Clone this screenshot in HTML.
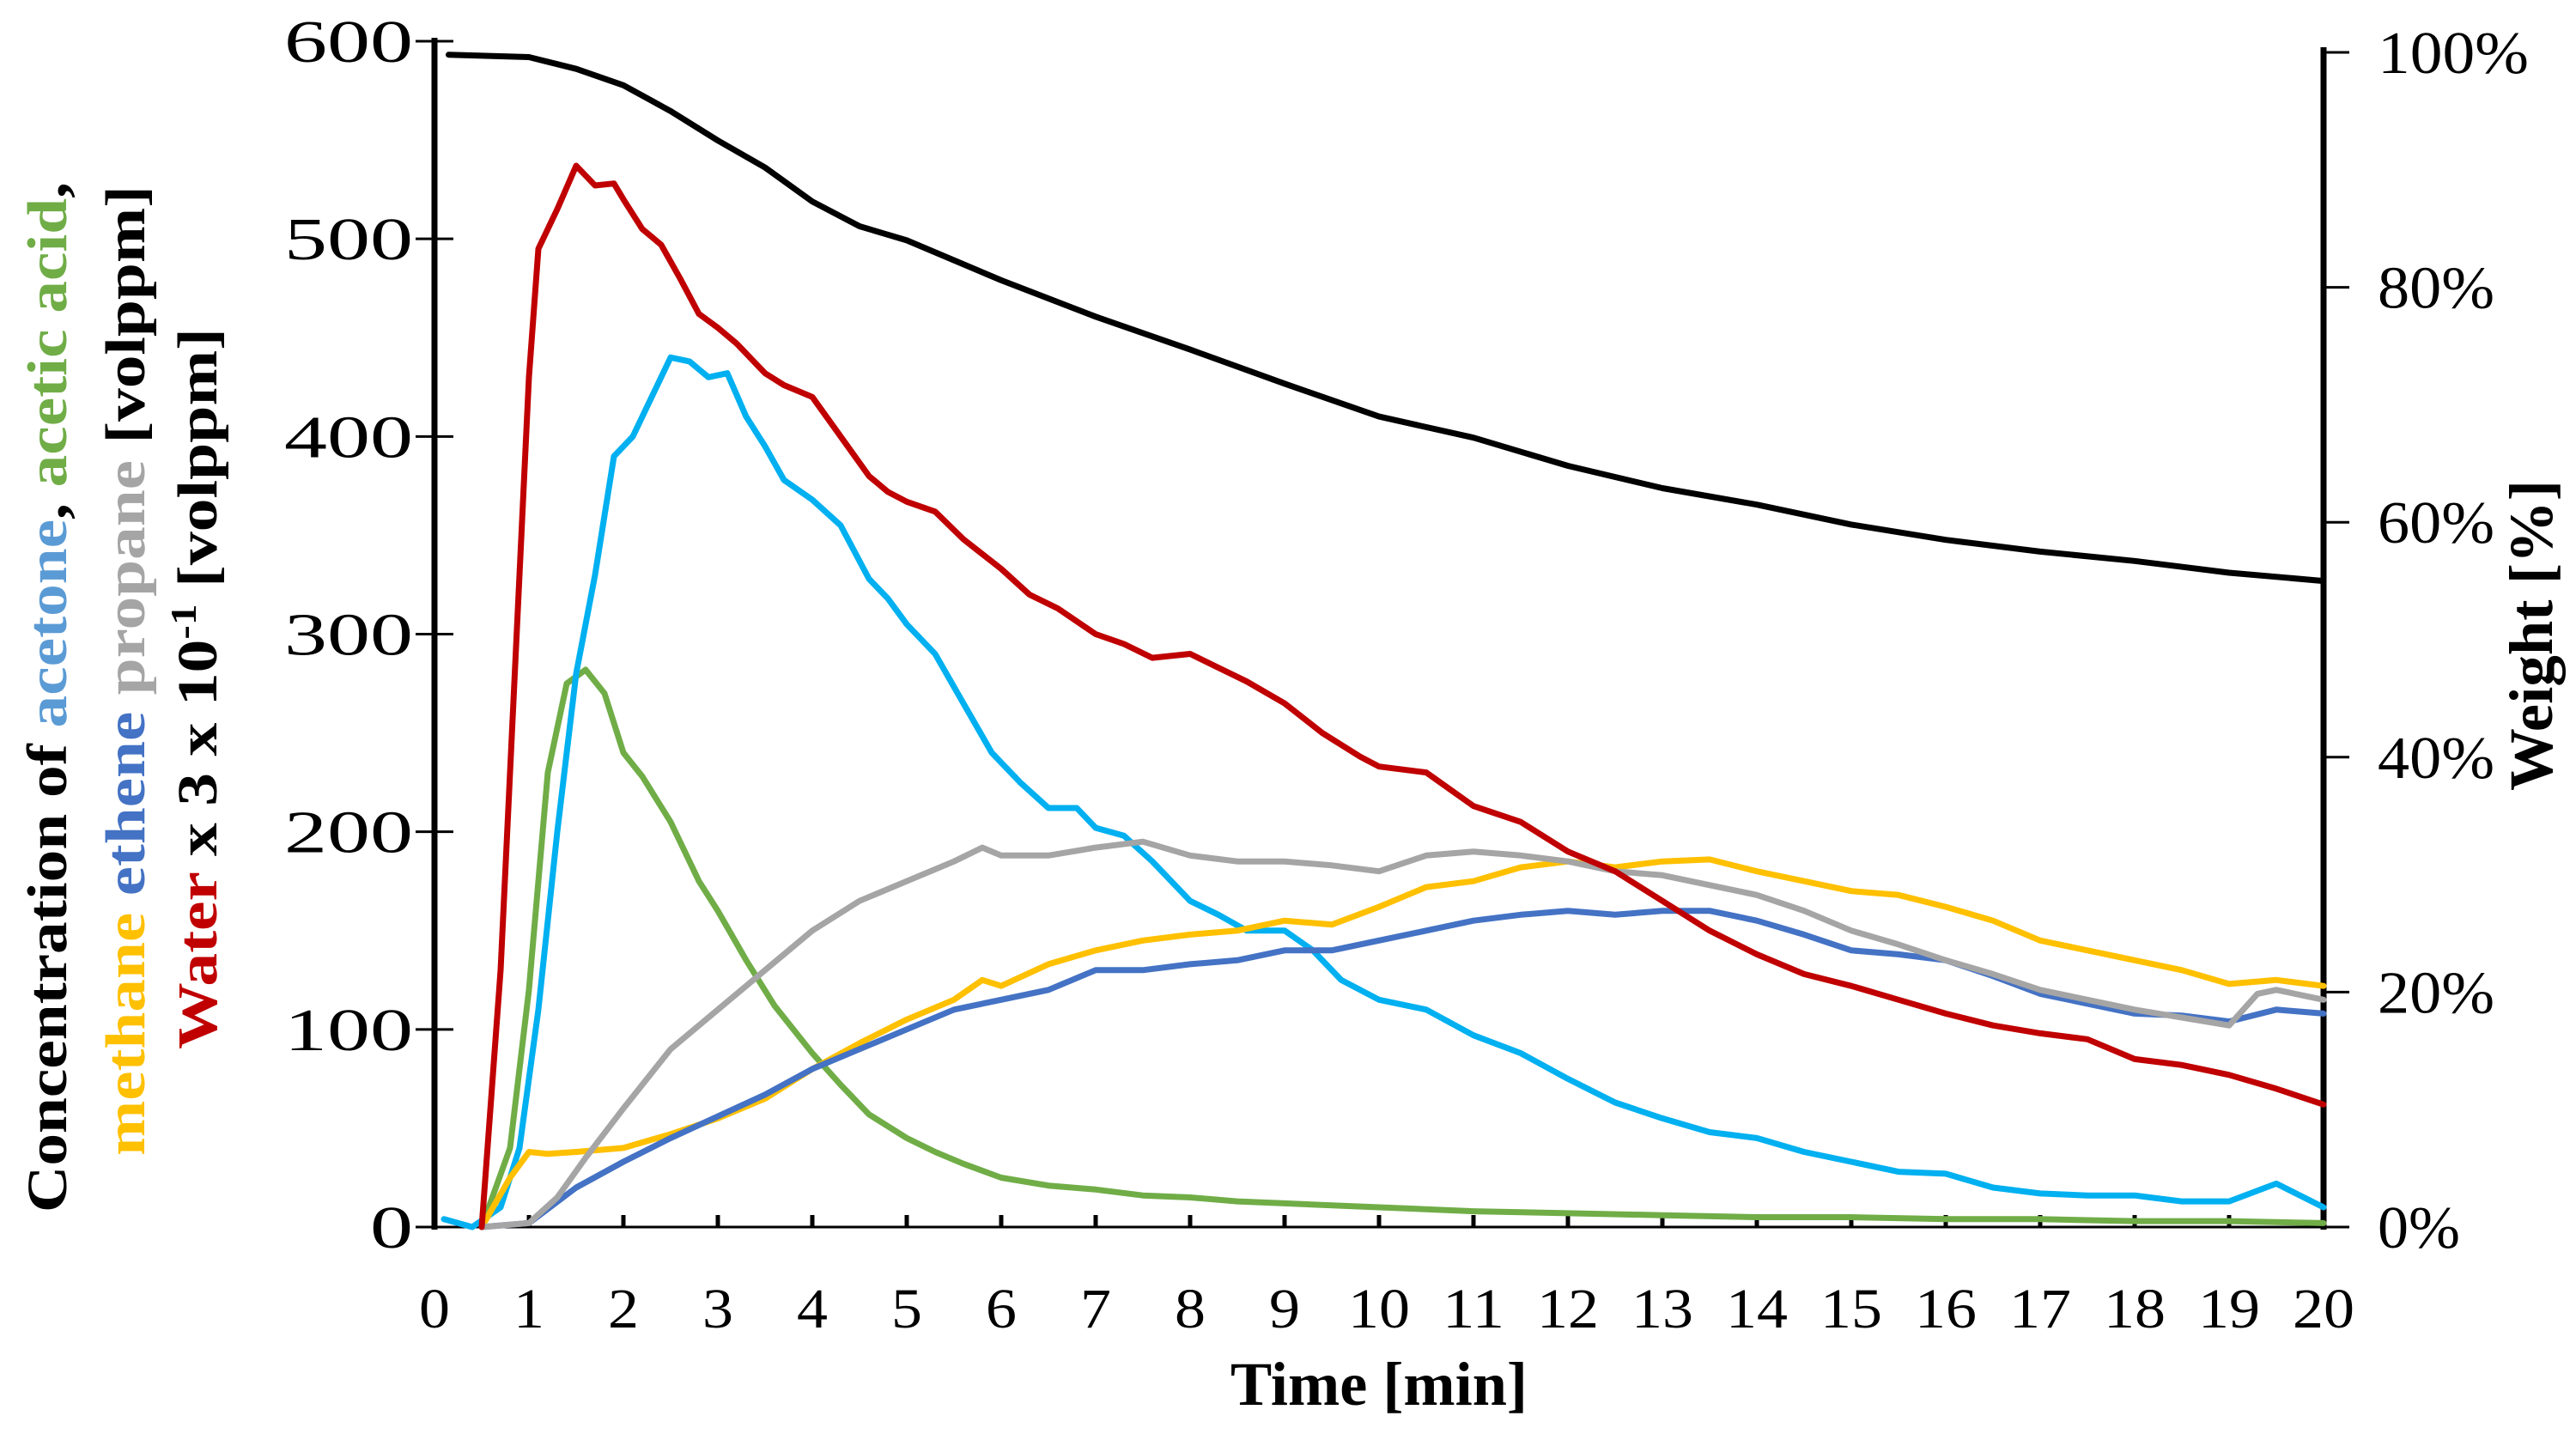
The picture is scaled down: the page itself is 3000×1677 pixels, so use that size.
<!DOCTYPE html>
<html><head><meta charset="utf-8"><style>
html,body{margin:0;padding:0;background:#fff}
svg{display:block;font-family:"Liberation Serif",serif}
</style></head><body>
<svg id="chart" width="3000" height="1677" viewBox="0 0 3000 1677" xmlns="http://www.w3.org/2000/svg">
<g id="axes"></g>
<g id="series"></g>
<g id="labels"></g>
<text x="1606" y="1636" font-size="72" font-weight="bold" text-anchor="middle" textLength="346" lengthAdjust="spacingAndGlyphs">Time [min]</text>
<text transform="translate(2972,740) rotate(-90)" font-size="72" font-weight="bold" text-anchor="middle" textLength="362" lengthAdjust="spacingAndGlyphs">Weight [%]</text>
<text transform="translate(77,812) rotate(-90)" font-size="66" font-weight="bold" text-anchor="middle" textLength="1200" lengthAdjust="spacingAndGlyphs">Concentration of <tspan fill="#5B9BD5">acetone</tspan>,  <tspan fill="#70AD47">acetic acid</tspan>,</text>
<text transform="translate(168,781) rotate(-90)" font-size="66" font-weight="bold" text-anchor="middle" textLength="1130" lengthAdjust="spacingAndGlyphs"><tspan fill="#FFC000">methane</tspan> <tspan fill="#4472C4">ethene</tspan> <tspan fill="#A5A5A5">propane</tspan> [volppm]</text>
<text transform="translate(252,802) rotate(-90)" font-size="66" font-weight="bold" text-anchor="middle" textLength="840" lengthAdjust="spacingAndGlyphs"><tspan fill="#C00000">Water</tspan> x  3 x 10<tspan font-size="42" dy="-24">-1</tspan><tspan dy="24"> [volppm]</tspan></text>
</svg>
<script>
const xTicks=[0,1,2,3,4,5,6,7,8,9,10,11,12,13,14,15,16,17,18,19,20];
const yTicks=[0,100,200,300,400,500,600];
const y2Ticks=[0,20,40,60,80,100];
const weightT=[0.15,1,1.5,2,2.5,3,3.5,4,4.5,5,6,7,8,9,10,11,12,13,14,15,16,17,18,19,20];
const weightV=[99.8,99.6,98.6,97.2,95,92.5,90.2,87.3,85.2,84,80.6,77.5,74.7,71.8,69,67.2,64.8,62.9,61.5,59.8,58.5,57.5,56.7,55.7,55];
const waterT=[0.5,0.7,0.9,1.0,1.1,1.3,1.5,1.7,1.9,2.0,2.2,2.4,2.6,2.8,3.0,3.2,3.5,3.7,4.0,4.3,4.6,4.8,5.0,5.3,5.6,6.0,6.3,6.6,7.0,7.3,7.6,8.0,8.3,8.6,9.0,9.4,9.8,10.0,10.5,11.0,11.5,12,12.5,13,13.5,14,14.5,15,15.5,16,16.5,17,17.5,18,18.5,19,19.5,20];
const waterV=[0,130,330,430,495,515,537,527,528,520,505,497,480,462,455,447,432,426,420,400,380,372,367,362,348,333,320,313,300,295,288,290,283,276,265,250,238,233,230,213,205,190,180,165,150,138,128,122,115,108,102,98,95,85,82,77,70,62];
const acetoneT=[0.1,0.4,0.7,0.9,1.1,1.3,1.5,1.7,1.9,2.1,2.3,2.5,2.7,2.9,3.1,3.3,3.5,3.7,4.0,4.3,4.6,4.8,5.0,5.3,5.6,5.9,6.2,6.5,6.8,7.0,7.3,7.6,8.0,8.3,8.6,9.0,9.3,9.6,10.0,10.5,11.0,11.5,12.0,12.5,13.0,13.5,14.0,14.5,15.0,15.5,16.0,16.5,17.0,17.5,18.0,18.5,19.0,19.5,20.0];
const acetoneV=[4,0,10,40,110,200,280,330,390,400,420,440,438,430,432,410,395,378,368,355,328,318,305,290,265,240,225,212,212,202,198,185,165,158,150,150,140,125,115,110,97,88,75,63,55,48,45,38,33,28,27,20,17,16,16,13,13,22,10];
const aceticT=[0.5,0.8,1.0,1.2,1.4,1.6,1.8,2.0,2.2,2.5,2.8,3.0,3.3,3.6,4.0,4.3,4.6,5.0,5.3,5.6,6.0,6.5,7.0,7.5,8,8.5,9,10,11,12,13,14,15,16,17,18,19,20];
const aceticV=[0,40,120,230,275,282,270,240,228,205,175,160,135,112,88,72,57,45,38,32,25,21,19,16,15,13,12,10,8,7,6,5,5,4,4,3,3,2];
const methaneT=[0.5,0.8,1.0,1.2,1.5,2.0,2.5,3.0,3.5,4.0,4.5,5.0,5.5,5.8,6.0,6.5,7.0,7.5,8.0,8.5,9.0,9.5,10.0,10.5,11.0,11.5,12.0,12.5,13.0,13.5,14.0,14.5,15.0,15.5,16.0,16.5,17.0,17.5,18.0,18.5,19.0,19.5,20.0];
const methaneV=[0,25,38,37,38,40,47,55,65,80,93,105,115,125,122,133,140,145,148,150,155,153,162,172,175,182,185,182,185,186,180,175,170,168,162,155,145,140,135,130,123,125,122];
const etheneT=[0.5,1.0,1.5,2.0,2.5,3.0,3.5,4.0,4.5,5.0,5.5,6.0,6.5,7.0,7.5,8.0,8.5,9.0,9.5,10.0,10.5,11.0,11.5,12.0,12.5,13.0,13.5,14.0,14.5,15.0,15.5,16.0,16.5,17.0,17.5,18.0,18.5,19.0,19.5,20.0];
const etheneV=[0,2,20,33,45,56,67,80,90,100,110,115,120,130,130,133,135,140,140,145,150,155,158,160,158,160,160,155,148,140,138,135,127,118,113,108,107,104,110,108];
const propaneT=[0.5,1.0,1.3,1.6,2.0,2.5,3.0,3.5,4.0,4.5,5.0,5.5,5.8,6.0,6.5,7.0,7.5,8.0,8.5,9.0,9.5,10.0,10.5,11.0,11.5,12.0,12.5,13.0,13.5,14.0,14.5,15.0,15.5,16.0,16.5,17.0,17.5,18.0,18.5,19.0,19.3,19.5,20.0];
const propaneV=[0,2,15,35,60,90,110,130,150,165,175,185,192,188,188,192,195,188,185,185,183,180,188,190,188,185,180,178,173,168,160,150,143,135,128,120,115,110,106,102,118,120,115];

const X0=506,X1=2706,Y0=1429,Y1=48,YW1=61;
const sx=t=>X0+(X1-X0)*t/20;
const sy=v=>Y0-(Y0-Y1)*v/600;
const sw=v=>Y0-(Y0-YW1)*v/100;
const NS="http://www.w3.org/2000/svg";
function mk(tag,attrs,parent){const e=document.createElementNS(NS,tag);for(const k in attrs)e.setAttribute(k,attrs[k]);parent.appendChild(e);return e;}
const axes=document.getElementById('axes'),labels=document.getElementById('labels'),series=document.getElementById('series');

let a=mk('line',{x1:X0,y1:Y1-4,x2:X0,y2:Y0+3,stroke:'#000','stroke-width':7},axes);

a=mk('line',{x1:X1,y1:YW1-6,x2:X1,y2:Y0+3,stroke:'#000','stroke-width':7},axes);

a=mk('line',{x1:X0-22,y1:Y0,x2:X1+30,y2:Y0,stroke:'#000','stroke-width':3},axes);


yTicks.forEach(v=>{
  const t=mk('line',{x1:X0-22,y1:sy(v),x2:X0+22,y2:sy(v),stroke:'#000','stroke-width':3},axes);
  
  const s=String(v);
  const l=mk('text',{x:481,y:sy(v)+24,'font-size':70,'text-anchor':'end',textLength:s.length*50,lengthAdjust:'spacingAndGlyphs'},labels);
  l.textContent=s;
  
});
y2Ticks.forEach(v=>{
  const t=mk('line',{x1:X1,y1:sw(v),x2:X1+30,y2:sw(v),stroke:'#000','stroke-width':3},axes);
  
  const s=v+'%';
  const l=mk('text',{x:2769,y:sw(v)+24,'font-size':70,'text-anchor':'start',textLength:(s.length-1)*40+56,lengthAdjust:'spacingAndGlyphs'},labels);
  l.textContent=s;
  
});
xTicks.forEach(v=>{
  const t=mk('line',{x1:sx(v),y1:Y0-14,x2:sx(v),y2:Y0,stroke:'#000','stroke-width':5},axes);
  
  const s=String(v);
  const l=mk('text',{x:sx(v),y:1546,'font-size':66,'text-anchor':'middle',textLength:s.length*36,lengthAdjust:'spacingAndGlyphs'},labels);
  l.textContent=s;
  
});

function line(T,V,scale,color,w,name){
  const pts=T.map((t,i)=>sx(t).toFixed(1)+','+scale(V[i]).toFixed(1)).join(' ');
  const p=mk('polyline',{points:pts,fill:'none',stroke:color,'stroke-width':w,'stroke-linejoin':'round','stroke-linecap':'round'},series);
  
  
}
line(aceticT,aceticV,sy,'#70AD47',7,'acetic-acid-line');
line(acetoneT,acetoneV,sy,'#00B0F0',7,'acetone-line');
line(methaneT,methaneV,sy,'#FFC000',7,'methane-line');
line(etheneT,etheneV,sy,'#4472C4',7,'ethene-line');
line(propaneT,propaneV,sy,'#A5A5A5',7,'propane-line');
line(waterT,waterV,sy,'#C00000',7,'water-line');
line(weightT,weightV,sw,'#000000',7,'weight-line');
</script>
</body></html>
